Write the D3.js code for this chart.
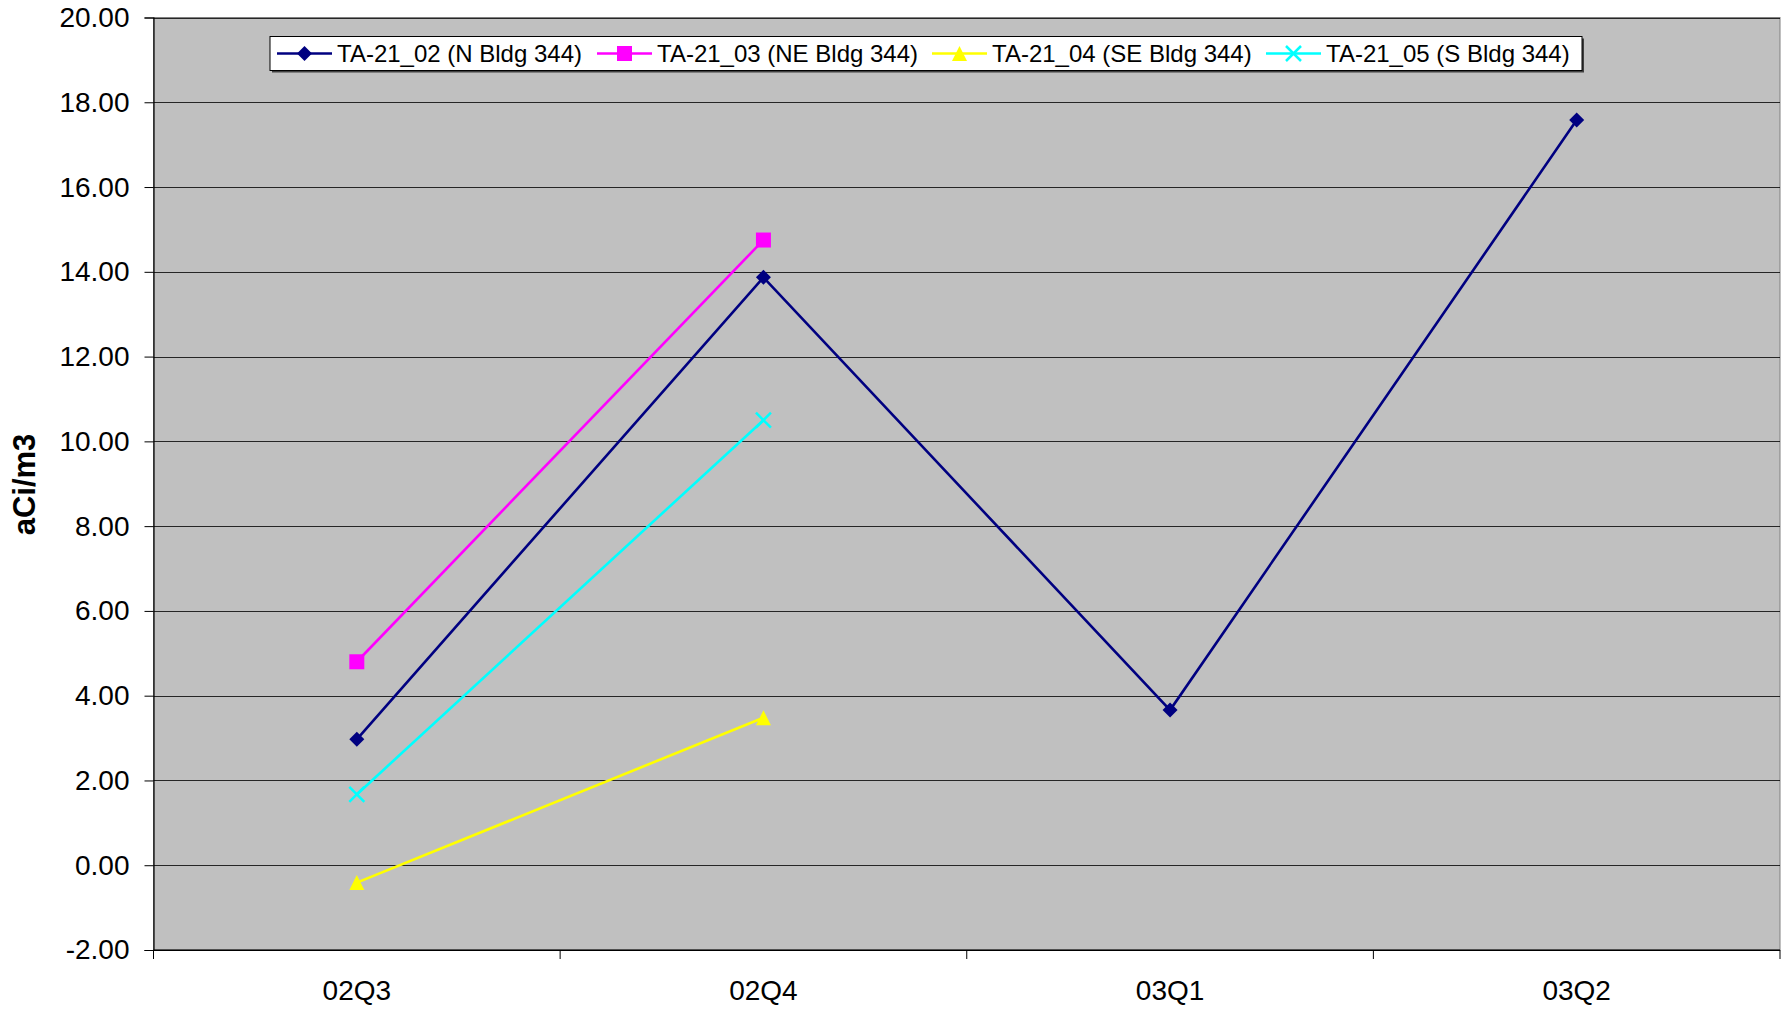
<!DOCTYPE html>
<html>
<head>
<meta charset="utf-8">
<script src="https://cdn.jsdelivr.net/npm/d3@7"></script>
<style>
  html, body { margin: 0; padding: 0; background: #ffffff; }
  svg { display: block; font-family: "Liberation Sans", Arial, sans-serif; }
</style>
</head>
<body>
<svg id="chart" width="1786" height="1021"></svg>
<script>
const categories = ["02Q3", "02Q4", "03Q1", "03Q2"];
const seriesNames = ["TA-21_02 (N Bldg 344)", "TA-21_03 (NE Bldg 344)", "TA-21_04 (SE Bldg 344)", "TA-21_05 (S Bldg 344)"];
const valuesN  = [2.97, 13.87, 3.66, 17.58];
const valuesNE = [4.80, 14.75, null, null];
const valuesSE = [-0.41, 3.48, null, null];
const valuesS  = [1.67, 10.50, null, null];
const yTicks = [-2, 0, 2, 4, 6, 8, 10, 12, 14, 16, 18, 20];
const yTitle = "aCi/m3";

const colors = ["#000080", "#FF00FF", "#FFFF00", "#00FFFF"];
const shapes = ["diamond", "square", "triangle", "x"];
const seriesValues = [valuesN, valuesNE, valuesSE, valuesS];

const L = 153.5, R = 1780, T = 17.5, B = 950;
const svg = d3.select("#chart");

const x = d3.scaleBand().domain(categories).range([L, R]).paddingInner(0).paddingOuter(0);
const y = d3.scaleLinear().domain([-2, 20]).range([B, T]);

// plot background
svg.append("rect").attr("x", L).attr("y", T).attr("width", R - L).attr("height", B - T)
  .attr("fill", "#C0C0C0").attr("stroke", "#808080").attr("stroke-width", 1);

// gridlines
svg.append("g").selectAll("line").data(yTicks).join("line")
  .attr("x1", L).attr("x2", R)
  .attr("y1", d => Math.round(y(d)) + 0.5).attr("y2", d => Math.round(y(d)) + 0.5)
  .attr("stroke", "#000").attr("stroke-width", 1).attr("opacity", d => d === -2 ? 1 : 0.8);

// y axis
const fmt = d3.format(".2f");
const yAxis = d3.axisLeft(y).tickValues(yTicks).tickFormat(d => fmt(d).replace("\u2212", "-")).tickSize(9).tickPadding(15);
const gy = svg.append("g").attr("transform", `translate(${L},0)`).call(yAxis);
gy.select(".domain").attr("stroke", "#000").attr("stroke-width", 1.2);
gy.selectAll(".tick line").attr("stroke", "#000");
gy.selectAll("text").attr("font-size", 28).attr("fill", "#000")
  .attr("font-family", "'Liberation Sans', Arial, sans-serif");

// x axis: ticks at category boundaries
const gx = svg.append("g").attr("transform", `translate(0,${B})`);
gx.append("line").attr("x1", L).attr("x2", R).attr("y1", 0).attr("y2", 0).attr("stroke", "#000").attr("stroke-width", 1.2);
const boundaries = categories.map(c => x(c)).concat([x(categories[categories.length - 1]) + x.bandwidth()]);
gx.selectAll("line.tk").data(boundaries).join("line").attr("class", "tk")
  .attr("x1", d => d).attr("x2", d => d).attr("y1", 0).attr("y2", 9).attr("stroke", "#000");
gx.selectAll("text").data(categories).join("text")
  .attr("x", d => x(d) + x.bandwidth() / 2).attr("y", 50)
  .attr("text-anchor", "middle").attr("font-size", 28).attr("fill", "#000").text(d => d);

// y title
svg.append("text").attr("transform", "translate(35,484.5) rotate(-90)")
  .attr("text-anchor", "middle").attr("font-size", 31).attr("font-weight", "bold").attr("fill", "#000")
  .text(yTitle);

// marker drawing
function drawMarker(g, shape, color, cx, cy, s) {
  const h = s / 2;
  if (shape === "diamond") {
    g.append("path").attr("d", `M${cx},${cy - h}L${cx + h},${cy}L${cx},${cy + h}L${cx - h},${cy}Z`).attr("fill", color);
  } else if (shape === "square") {
    g.append("rect").attr("x", cx - h).attr("y", cy - h).attr("width", s).attr("height", s).attr("fill", color);
  } else if (shape === "triangle") {
    g.append("path").attr("d", `M${cx},${cy - h}L${cx + h},${cy + h}L${cx - h},${cy + h}Z`).attr("fill", color);
  } else if (shape === "x") {
    g.append("path").attr("d", `M${cx - h},${cy - h}L${cx + h},${cy + h}M${cx - h},${cy + h}L${cx + h},${cy - h}`)
      .attr("stroke", color).attr("stroke-width", 2.5).attr("fill", "none");
  }
}

const line = d3.line()
  .defined(d => d.v !== null)
  .x(d => x(d.c) + x.bandwidth() / 2)
  .y(d => y(d.v));

seriesValues.forEach((vals, i) => {
  const pts = categories.map((c, j) => ({ c, v: vals[j] }));
  const g = svg.append("g");
  g.append("path").datum(pts).attr("d", line).attr("fill", "none")
    .attr("stroke", colors[i]).attr("stroke-width", 2.6);
  pts.filter(p => p.v !== null).forEach(p => {
    drawMarker(g, shapes[i], colors[i], x(p.c) + x.bandwidth() / 2, y(p.v), 15);
  });
});

// legend
const lg = svg.append("g");
const lx0 = 270, ly0 = 36.5, lx1 = 1582, ly1 = 70.5;
lg.append("rect").attr("x", lx0 + 2).attr("y", ly0 + 2).attr("width", lx1 - lx0).attr("height", ly1 - ly0).attr("fill", "#404040");
lg.append("rect").attr("x", lx0).attr("y", ly0).attr("width", lx1 - lx0).attr("height", ly1 - ly0)
  .attr("fill", "#fff").attr("stroke", "#000").attr("stroke-width", 1);
const itemX = [277, 597, 932, 1266];
const ly = 53.5;
seriesNames.forEach((name, i) => {
  const sx = itemX[i];
  lg.append("line").attr("x1", sx).attr("x2", sx + 55).attr("y1", ly).attr("y2", ly)
    .attr("stroke", colors[i]).attr("stroke-width", 2.6);
  drawMarker(lg, shapes[i], colors[i], sx + 27.5, ly, 15);
  lg.append("text").attr("x", sx + 60).attr("y", ly).attr("dy", "0.35em")
    .attr("font-size", 24).attr("fill", "#000").text(name);
});
</script>
</body>
</html>
